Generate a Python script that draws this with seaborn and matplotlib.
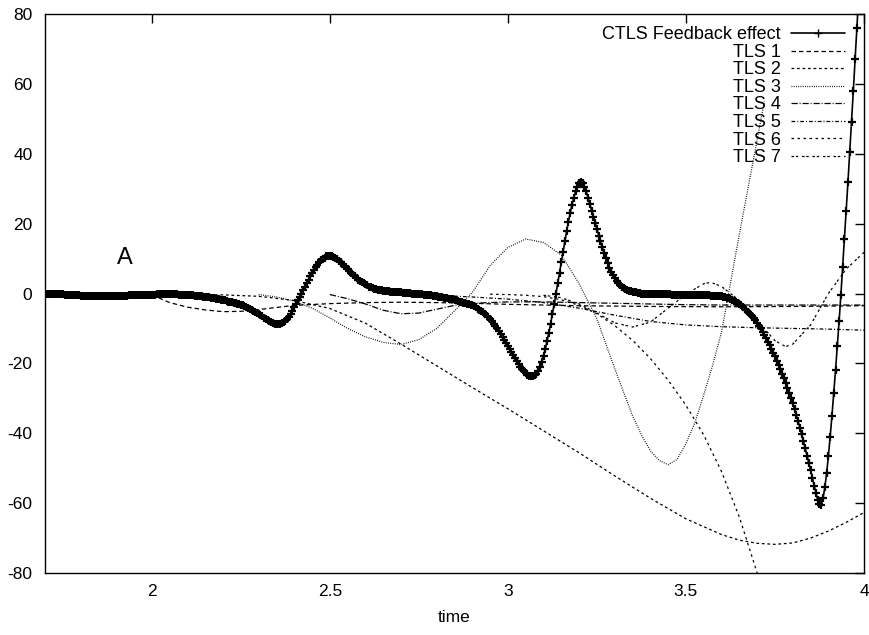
import numpy as np
import pandas as pd
import matplotlib
matplotlib.use("Agg")
import matplotlib.pyplot as plt
import seaborn as sns

# ---------------- data ----------------
ctls_t0 = 1.70
ctls_dt = 0.005
ctls_y = [
    0.0, 0.0, 0.0, -0.1, -0.1, -0.1, -0.1, -0.2, -0.2, -0.2, -0.2, -0.3, -0.3, -0.3, -0.4, -0.4, -0.4, -0.5, -0.5, -0.5,
    -0.6, -0.6, -0.6, -0.7, -0.7, -0.7, -0.7, -0.8, -0.8, -0.8, -0.8, -0.8, -0.8, -0.8, -0.8, -0.8, -0.8, -0.7, -0.7, -0.7,
    -0.7, -0.7, -0.7, -0.6, -0.6, -0.6, -0.6, -0.5, -0.5, -0.5, -0.5, -0.5, -0.4, -0.4, -0.4, -0.4, -0.4, -0.3, -0.3, -0.3,
    -0.3, -0.3, -0.3, -0.2, -0.2, -0.2, -0.2, -0.2, -0.2, -0.2, -0.2, -0.2, -0.2, -0.2, -0.2, -0.3, -0.3, -0.3, -0.3, -0.3,
    -0.4, -0.4, -0.5, -0.5, -0.6, -0.6, -0.7, -0.7, -0.8, -0.9, -0.9, -1.0, -1.1, -1.2, -1.3, -1.4, -1.5, -1.6, -1.7, -1.8,
    -1.9, -2.0, -2.1, -2.3, -2.4, -2.5, -2.6, -2.8, -2.9, -3.1, -3.2, -3.4, -3.6, -3.9, -4.1, -4.3, -4.6, -4.9, -5.2, -5.5,
    -5.8, -6.2, -6.5, -6.9, -7.2, -7.5, -7.8, -8.1, -8.4, -8.6, -8.8, -8.8, -8.7, -8.5, -8.2, -7.8, -7.2, -6.6, -5.8, -4.9,
    -4.0, -3.0, -2.0, -1.0, 0.0, 1.0, 2.0, 3.0, 4.0, 4.9, 5.8, 6.7, 7.5, 8.2, 8.9, 9.5, 10.0, 10.3, 10.6, 10.7,
    10.8, 10.7, 10.5, 10.2, 9.8, 9.4, 9.0, 8.5, 8.0, 7.5, 6.9, 6.4, 5.9, 5.4, 4.9, 4.4, 4.0, 3.6, 3.2, 2.9,
    2.6, 2.3, 2.0, 1.8, 1.6, 1.4, 1.2, 1.1, 1.0, 0.9, 0.8, 0.7, 0.6, 0.6, 0.5, 0.5, 0.4, 0.4, 0.3, 0.3,
    0.3, 0.2, 0.2, 0.1, 0.1, 0.1, 0.0, 0.0, -0.1, -0.1, -0.1, -0.2, -0.2, -0.3, -0.3, -0.4, -0.5, -0.5, -0.6, -0.7,
    -0.8, -0.9, -1.0, -1.1, -1.2, -1.3, -1.4, -1.5, -1.6, -1.7, -1.8, -2.0, -2.1, -2.3, -2.4, -2.6, -2.8, -2.9, -3.1, -3.2,
    -3.4, -3.7, -4.0, -4.3, -4.6, -5.0, -5.4, -5.8, -6.3, -6.8, -7.3, -7.9, -8.6, -9.3, -10.0, -10.8, -11.6, -12.4, -13.2, -14.1,
    -15.0, -15.9, -16.8, -17.7, -18.6, -19.4, -20.2, -20.9, -21.6, -22.2, -22.8, -23.2, -23.5, -23.6, -23.6, -23.4, -23.0, -22.2, -21.0, -19.6,
    -17.8, -15.9, -13.6, -11.2, -8.6, -5.8, -3.0, 0.0, 3.0, 6.0, 9.0, 12.0, 15.0, 17.9, 20.6, 23.1, 25.4, 27.4, 29.2, 30.5,
    31.5, 32.0, 31.6, 30.6, 29.2, 27.4, 25.5, 23.7, 22.0, 20.2, 18.4, 16.6, 14.9, 13.2, 11.6, 10.1, 8.7, 7.4, 6.2, 5.2,
    4.3, 3.6, 3.0, 2.5, 2.0, 1.6, 1.3, 1.0, 0.8, 0.6, 0.5, 0.4, 0.3, 0.2, 0.1, 0.0, 0.0, -0.1, -0.1, -0.2,
    -0.2, -0.2, -0.2, -0.2, -0.2, -0.2, -0.2, -0.2, -0.2, -0.2, -0.2, -0.2, -0.3, -0.3, -0.3, -0.3, -0.3, -0.3, -0.3, -0.3,
    -0.3, -0.3, -0.3, -0.3, -0.3, -0.3, -0.3, -0.4, -0.4, -0.4, -0.4, -0.5, -0.5, -0.5, -0.6, -0.6, -0.6, -0.7, -0.7, -0.8,
    -0.8, -0.9, -1.1, -1.2, -1.4, -1.6, -1.9, -2.1, -2.4, -2.7, -3.1, -3.4, -3.8, -4.3, -4.7, -5.2, -5.8, -6.4, -7.0, -7.7,
    -8.4, -9.2, -10.0, -10.9, -11.8, -12.8, -13.8, -14.8, -15.8, -16.9, -18.0, -19.2, -20.4, -21.7, -23.0, -24.3, -25.6, -27.0, -28.4, -29.9,
    -31.4, -33.1, -34.8, -36.6, -38.4, -40.3, -42.3, -44.3, -46.4, -48.5, -50.6, -52.8, -55.0, -57.1, -59.0, -60.3, -60.4, -58.6, -55.5, -51.5,
    -46.5, -41.0, -35.0, -28.5, -22.0, -15.0, -8.0, -0.5, 7.5, 15.5, 23.5, 32.0, 40.5, 49.0, 58.0, 67.0, 76.0, 85.0,
]
ctls_t = np.round(ctls_t0 + ctls_dt * np.arange(len(ctls_y)), 3)

tls1_t = [2.00, 2.05, 2.10, 2.15, 2.20, 2.25, 2.30, 2.35, 2.40, 2.50, 2.60, 2.70, 2.80, 2.90, 3.00, 3.20, 3.40, 3.60, 3.80, 4.00]
tls1_y = [-0.4, -2.6, -3.9, -4.7, -5.2, -5.1, -4.6, -4.0, -3.4, -2.9, -2.6, -2.5, -2.6, -2.8, -3.1, -3.5, -3.7, -3.8, -3.7, -3.5]

tls2_t = [2.10, 2.20, 2.30, 2.40, 2.50, 2.60, 2.70, 2.80, 2.90, 3.00, 3.10, 3.20, 3.30, 3.40, 3.50, 3.60, 3.65, 3.70,
          3.75, 3.80, 3.85, 3.90, 3.95, 4.00]
tls2_y = [-0.3, -0.4, -0.8, -2.0, -4.3, -8.5, -14.5, -20.7, -26.9, -33.0, -39.3, -45.6, -52.2, -58.6, -64.5, -69.0, -70.6, -71.5,
          -71.8, -71.4, -70.0, -68.0, -65.5, -62.7]

tls3_t = [2.30, 2.35, 2.40, 2.45, 2.50, 2.55, 2.60, 2.65, 2.70, 2.75, 2.80, 2.85, 2.90, 2.95, 3.00, 3.05, 3.10, 3.15,
          3.20, 3.25, 3.30, 3.35, 3.375, 3.40, 3.425, 3.45, 3.475, 3.50, 3.525, 3.55, 3.575, 3.60, 3.65, 3.70, 3.72]
tls3_y = [-0.3, -1.0, -2.2, -4.2, -7.0, -10.0, -12.4, -14.0, -14.6, -13.2, -10.0, -5.0, 0.3, 8.0, 13.2, 15.6, 14.6, 11.0,
          2.8, -7.3, -21.5, -35.0, -40.5, -45.0, -47.8, -49.0, -47.5, -43.0, -37.0, -29.0, -20.5, -11.0, 17.0, 44.0, 55.0]

tls4_t = [2.50, 2.55, 2.60, 2.65, 2.70, 2.75, 2.80, 2.85, 2.90, 3.00, 3.10, 3.20, 3.30, 3.40, 3.50, 3.60, 3.70, 3.80, 3.90, 4.00]
tls4_y = [-0.3, -1.5, -3.0, -4.8, -5.8, -5.6, -4.5, -3.4, -2.8, -2.4, -2.4, -2.6, -2.8, -3.0, -3.2, -3.3, -3.3, -3.3, -3.3, -3.3]

tls5_t = [2.80, 2.90, 3.00, 3.10, 3.20, 3.30, 3.40, 3.50, 3.60, 3.70, 3.80, 3.90, 4.00]
tls5_y = [-0.5, -1.0, -1.6, -2.6, -4.2, -6.2, -8.0, -9.0, -9.5, -9.8, -10.0, -10.2, -10.5]

tls6_t = [2.95, 3.00, 3.05, 3.10, 3.15, 3.20, 3.25, 3.30, 3.35, 3.40, 3.45, 3.50, 3.55, 3.60, 3.65, 3.70, 3.72]
tls6_y = [-0.2, -0.3, -0.5, -0.9, -1.8, -3.4, -5.8, -9.2, -13.4, -18.6, -24.8, -32.0, -40.5, -51.0, -64.0, -80.0, -87.0]

tls7_t = [3.10, 3.15, 3.20, 3.25, 3.30, 3.35, 3.40, 3.45, 3.50, 3.55, 3.57, 3.60, 3.65, 3.70, 3.75, 3.78, 3.80, 3.85, 3.90, 3.95, 4.00]
tls7_y = [-0.5, -1.2, -3.0, -5.6, -8.4, -9.6, -8.2, -4.2, -0.2, 2.8, 3.2, 2.0, -2.0, -7.8, -13.5, -15.2, -14.5, -9.0, 0.0, 7.0, 11.8]

series_labels = ["CTLS Feedback effect", "TLS 1", "TLS 2", "TLS 3", "TLS 4", "TLS 5", "TLS 6", "TLS 7"]
x_ticks = [2, 2.5, 3, 3.5, 4]
x_tick_labels = ["2", "2.5", "3", "3.5", "4"]
y_ticks = [-80, -60, -40, -20, 0, 20, 40, 60, 80]

# ---------------- style ----------------
sns.set_theme(style="white")
plt.rcParams["font.family"] = ["Liberation Sans", "DejaVu Sans"]
plt.rcParams["text.color"] = "black"
plt.rcParams["axes.labelcolor"] = "black"
plt.rcParams["xtick.color"] = "black"
plt.rcParams["ytick.color"] = "black"
plt.rcParams["axes.unicode_minus"] = False

fig = plt.figure(figsize=(8.7, 6.35), dpi=100)
ax = fig.add_axes([45 / 870, 1 - 573 / 635, 819 / 870, 559 / 635])

handles = []

sns.lineplot(x=ctls_t, y=ctls_y, ax=ax, color="black", lw=1.2, marker="+",
             markersize=6.0, markeredgewidth=1.6, markeredgecolor="black",
             estimator=None, sort=False)
handles.append(ax.lines[-1])

tls_specs = [
    (tls1_t, tls1_y, (0, (3.6, 2.4))),
    (tls2_t, tls2_y, (0, (2.2, 2.2))),
    (tls3_t, tls3_y, (0, (0.7, 1.1))),
    (tls4_t, tls4_y, (0, (5.0, 1.5, 0.8, 1.5))),
    (tls5_t, tls5_y, (0, (3.0, 1.6, 0.8, 1.6))),
    (tls6_t, tls6_y, (0, (2.0, 2.8))),
    (tls7_t, tls7_y, (0, (2.0, 1.4, 2.0, 3.0))),
]
for t, y, ls in tls_specs:
    sns.lineplot(x=t, y=y, ax=ax, color="black", lw=0.9, estimator=None, sort=False)
    ln = ax.lines[-1]
    ln.set_linestyle(ls)
    handles.append(ln)

ax.set_xlim(1.7, 4.0)
ax.set_ylim(-80, 80)
ax.set_xticks(x_ticks)
ax.set_xticklabels(x_tick_labels)
ax.set_yticks(y_ticks)
ax.tick_params(direction="in", length=6.5, width=1, top=True, right=True,
               labelsize=12.5, colors="black")
ax.tick_params(axis="x", pad=8)
ax.tick_params(axis="y", pad=9)
for sp in ax.spines.values():
    sp.set_color("black")
    sp.set_linewidth(1.0)
ax.set_xlabel("time", fontsize=12.5, labelpad=8)
ax.set_ylabel("")

ax.text(1.924, 10.3, "A", fontsize=17, ha="center", va="center")

leg = ax.legend(handles, series_labels, loc="upper right", bbox_to_anchor=(0.977, 0.978),
                frameon=False, markerfirst=False, numpoints=1, fontsize=13,
                handlelength=3.0, handletextpad=0.55, labelspacing=0.03,
                borderpad=0, borderaxespad=0)
for lh in leg.get_lines():
    lh.set_markeredgewidth(1.0)

fig.savefig("out.png", dpi=100)
